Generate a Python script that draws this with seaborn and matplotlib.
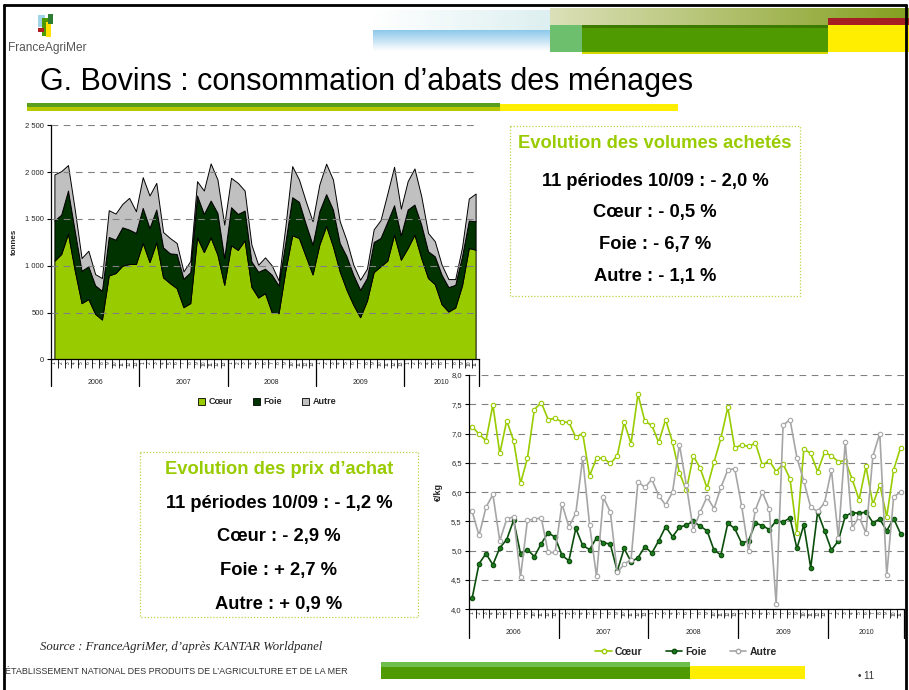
import numpy as np
import matplotlib
matplotlib.use("Agg")
import matplotlib.pyplot as plt
import seaborn as sns
from matplotlib.patches import Rectangle, Patch
from matplotlib.lines import Line2D

# données : périodes de 4 semaines
annees = ['2006', '2007', '2008', '2009', '2010']
periodes_par_an = [13, 13, 13, 13, 11]

# volumes achetés (tonnes)
coeur_t = [1053, 1125, 1343, 950, 600, 643, 486, 425, 896, 921, 1000, 1018, 1018,
           1243, 1039, 1250, 875, 814, 760, 557, 600, 1303, 1146, 1303, 1118, 796,
           1218, 1168, 1271, 775, 660, 707, 500, 493, 950, 1325, 1296, 1100, 907,
           1225, 1425, 1207, 939, 743, 582, 450, 625, 932, 993, 1053, 1332, 1064,
           1189, 1332, 1082, 868, 803, 589, 510, 553, 789, 1189, 1171]
foie_t = [429, 421, 460, 420, 346, 350, 304, 307, 411, 357, 410, 368, 332,
          375, 364, 350, 321, 318, 365, 304, 330, 447, 407, 393, 446, 286,
          407, 385, 318, 271, 275, 261, 403, 296, 300, 407, 386, 346, 318,
          357, 340, 393, 304, 357, 321, 293, 243, 321, 303, 415, 314, 261,
          411, 321, 357, 286, 297, 314, 261, 243, 311, 293, 304]
autre_t = [493, 464, 272, 230, 136, 167, 120, 136, 286, 279, 250, 339, 232,
           328, 347, 285, 164, 164, 118, 78, 120, 153, 250, 397, 357, 357,
           314, 332, 214, 179, 75, 121, 100, 54, 170, 332, 239, 243, 250,
           286, 325, 321, 232, 171, 108, 107, 100, 136, 190, 300, 411, 285,
           303, 386, 304, 196, 161, 108, 86, 61, 96, 236, 296]

# prix d'achat (€/kg)
coeur_p = [7.12, 6.99, 6.88, 7.49, 6.66, 7.22, 6.88, 6.15, 6.58, 7.41, 7.53, 7.24, 7.26,
           7.20, 7.19, 6.94, 7.00, 6.28, 6.58, 6.58, 6.49, 6.62, 7.19, 6.83, 7.67, 7.21,
           7.14, 6.85, 7.24, 6.85, 6.33, 6.03, 6.62, 6.41, 6.07, 6.51, 6.92, 7.45, 6.75,
           6.81, 6.78, 6.84, 6.46, 6.54, 6.35, 6.48, 6.23, 5.30, 6.74, 6.66, 6.35, 6.68,
           6.62, 6.52, 6.54, 6.22, 5.87, 6.44, 5.79, 6.13, 5.58, 6.38, 6.76]
foie_p = [4.19, 4.78, 4.95, 4.76, 5.05, 5.19, 5.52, 4.95, 5.02, 4.90, 5.12, 5.31, 5.23,
          4.92, 4.83, 5.38, 5.09, 5.02, 5.22, 5.14, 5.11, 4.65, 5.04, 4.81, 4.88, 5.07,
          4.96, 5.17, 5.41, 5.24, 5.40, 5.44, 5.50, 5.42, 5.34, 5.01, 4.93, 5.47, 5.38,
          5.13, 5.17, 5.47, 5.43, 5.36, 5.51, 5.49, 5.56, 5.04, 5.44, 4.71, 5.66, 5.34,
          5.01, 5.17, 5.59, 5.65, 5.64, 5.66, 5.48, 5.54, 5.34, 5.55, 5.29]
autre_p = [5.67, 5.26, 5.74, 5.96, 5.17, 5.54, 5.58, 4.55, 5.52, 5.54, 5.56, 4.97, 4.97,
           5.80, 5.41, 5.64, 6.58, 5.44, 4.56, 5.91, 5.66, 4.63, 4.77, 4.85, 6.18, 6.08,
           6.22, 5.94, 5.78, 6.00, 6.81, 6.12, 5.36, 5.66, 5.92, 5.72, 6.08, 6.38, 6.40,
           5.77, 5.00, 5.70, 6.00, 5.71, 4.09, 7.14, 7.24, 6.59, 6.19, 5.74, 5.67, 5.82,
           6.38, 5.22, 6.86, 5.39, 5.58, 5.30, 6.62, 7.00, 4.58, 5.92, 6.00]

textes_volumes = ['Evolution des volumes achetés', '11 périodes 10/09 : - 2,0 %',
                  'Cœur : - 0,5 %', 'Foie : - 6,7 %', 'Autre : - 1,1 %']
textes_prix = ['Evolution des prix d’achat', '11 périodes 10/09 : - 1,2 %',
               'Cœur : - 2,9 %', 'Foie : + 2,7 %', 'Autre : + 0,9 %']

VERT = '#99CC00'
VERT_FONCE = '#003300'
GRIS = '#C0C0C0'

sns.set_theme(style='ticks')
plt.rcParams['font.family'] = ['Liberation Sans', 'DejaVu Sans']

n = len(coeur_t)
x = np.arange(n)
etiquettes = [str(p) for k in periodes_par_an for p in range(1, k + 1)]

fig = plt.figure(figsize=(9.09, 6.90), dpi=100)

# fond de la diapo, en pixels
bg = fig.add_axes([0, 0, 1, 1])
bg.set_xlim(0, 909)
bg.set_ylim(690, 0)
bg.axis('off')


def rect(x0, y0, x1, y1, c, **kw):
    bg.add_patch(Rectangle((x0, y0), x1 - x0, y1 - y0, facecolor=c, edgecolor='none', **kw))


def degrade(x0, y0, x1, y1, c0, c1, vertical=False):
    c0 = np.array(matplotlib.colors.to_rgb(c0))
    c1 = np.array(matplotlib.colors.to_rgb(c1))
    t = np.linspace(0, 1, 100)[:, None]
    img = c0 + (c1 - c0) * t
    img = img[:, None, :] if vertical else img[None, :, :]
    bg.imshow(img, extent=(x0, x1, y1, y0), aspect='auto', interpolation='bilinear')


# bandeau du haut
degrade(373, 10, 550, 30, '#FFFFFF', '#DDEFF0')
degrade(373, 30, 550, 51, '#8CC8EA', '#FFFFFF', vertical=True)
degrade(550, 8, 909, 25, '#DCE0B8', '#84A020')
rect(550, 25, 582, 52, '#6DBE6D')
rect(582, 25, 828, 52, '#4E9A00')
rect(582, 25, 828, 28, '#3C7A00')
rect(582, 52, 828, 54, '#D8D800')
rect(828, 18, 909, 25, '#A51E22')
rect(828, 25, 909, 52, '#FFEE00')
bg.set_xlim(0, 909)
bg.set_ylim(690, 0)

# logo
rect(38, 15, 45, 27, '#9FD3E8')
rect(42, 18, 49, 36, '#4E9A00')
rect(46, 22, 51, 37, '#FFE000')
rect(38, 28, 44, 32, '#B01E22')
rect(48, 14, 53, 24, '#2E7D32')
bg.text(8, 48, 'FranceAgriMer', fontsize=8.6, color='#555555', va='center', ha='left',
        family=['Liberation Sans Narrow', 'Liberation Sans'])

# titre
bg.text(40, 82, 'G. Bovins : consommation d’abats des ménages', fontsize=22,
        color='black', va='center', ha='left')
rect(27, 103, 500, 107, '#5A9E1E')
rect(27, 107, 500, 111, '#B8C800')
rect(500, 104, 678, 111, '#FFEE00')

# cadre noir
bg.plot([4, 4], [5, 690], color='black', lw=2)
bg.plot([4, 906], [5, 5], color='black', lw=2)
bg.plot([906, 906], [5, 690], color='black', lw=2)

# encadrés
for (x0, y0, x1, y1), textes, ys in [((510, 126, 800, 296), textes_volumes, [144, 181, 212, 245, 277]),
                                     ((140, 452, 418, 617), textes_prix, [470, 503, 537, 571, 604])]:
    bg.add_patch(Rectangle((x0, y0), x1 - x0, y1 - y0, fill=False, edgecolor='#BCD44A',
                           linestyle=(0, (1, 1.5)), lw=0.9))
    cx = (x0 + x1) / 2
    for i, (t, y) in enumerate(zip(textes, ys)):
        bg.text(cx, y, t, ha='center', va='center', fontsize=13.2, fontweight='bold',
                color=VERT if i == 0 else 'black')

# source et pied de page
bg.text(40, 647, 'Source : FranceAgriMer, d’après KANTAR Worldpanel', fontsize=9.2,
        style='italic', family=['Liberation Serif', 'DejaVu Serif'], va='center')
rect(381, 662, 690, 667, '#6DBE4A')
rect(381, 667, 690, 679, '#4E9A00')
rect(690, 666, 805, 679, '#FFEE00')
bg.text(5, 672, 'ÉTABLISSEMENT NATIONAL DES PRODUITS DE L’AGRICULTURE ET DE LA MER',
        fontsize=6.5, color='#333333', va='center',
        family=['Liberation Sans Narrow', 'Liberation Sans'])
bg.text(858, 676, '• 11', fontsize=7, color='#333333', va='center')


def axe_periodes(ax, sep_frac, year_off):
    ax.set_xticks(x)
    ax.set_xticklabels(etiquettes, rotation=90, fontsize=3.5)
    ax.tick_params(axis='x', which='major', length=0, pad=1.2, bottom=True)
    ax.set_xticks(np.arange(-0.5, n), minor=True)
    ax.tick_params(axis='x', which='minor', length=6.5, width=0.6, color='black', bottom=True)
    trans = ax.get_xaxis_transform()
    debut = 0
    for an, k in zip(annees, periodes_par_an):
        ax.plot([debut - 0.5] * 2, [0, -sep_frac], transform=trans, color='black',
                lw=0.9, clip_on=False)
        ax.annotate(an, xy=(debut + (k - 1) / 2, 0), xycoords=trans, xytext=(0, year_off),
                    textcoords='offset points', ha='center', va='center', fontsize=5)
        debut += k
    ax.plot([n - 0.5] * 2, [0, -sep_frac], transform=trans, color='black', lw=0.9,
            clip_on=False)
    ax.set_xlim(-0.5, n - 0.5)
    for s in ['top', 'right']:
        ax.spines[s].set_visible(False)
    for s in ['left', 'bottom']:
        ax.spines[s].set_color('black')
        ax.spines[s].set_linewidth(0.9)
    ax.patch.set_alpha(0)


# graphique 1 : volumes empilés
ax1 = fig.add_axes([51 / 909, 1 - 359.3 / 690, 428 / 909, 234 / 690])
ax1.stackplot(x, coeur_t, foie_t, autre_t, colors=[VERT, VERT_FONCE, GRIS],
              edgecolor='black', linewidth=0.7)
ax1.set_ylim(0, 2500)
ax1.set_yticks(range(0, 2501, 500))
ax1.set_yticklabels([f'{v:,}'.replace(',', ' ') for v in range(0, 2501, 500)])
ax1.tick_params(axis='y', length=3, width=0.8, labelsize=5.5, pad=2, left=True, color='black')
ax1.yaxis.grid(True, color='#808080', linestyle=(0, (6, 5)), linewidth=0.8)
ax1.set_axisbelow(False)
ax1.set_ylabel('tonnes', fontsize=5.8, fontweight='bold', labelpad=5)
axe_periodes(ax1, 27 / 234, -17)

poignees = [Patch(facecolor=c, edgecolor='black', linewidth=0.6) for c in [VERT, VERT_FONCE, GRIS]]
fig.legend(poignees, ['Cœur', 'Foie', 'Autre'], loc='center',
           bbox_to_anchor=(267 / 909, 1 - 402 / 690), ncol=3, frameon=False,
           prop=dict(weight='bold', size=6.5), handlelength=0.8, handleheight=0.8,
           columnspacing=2.2, handletextpad=0.4)

# graphique 2 : prix
ax2 = fig.add_axes([468.7 / 909, 1 - 609.3 / 690, 435.3 / 909, 234.3 / 690])
styles = [(coeur_p, '#99CC00', 'white', '#99CC00'),
          (foie_p, '#0B4D0B', '#1E7A1E', '#0B4D0B'),
          (autre_p, '#A6A6A6', 'white', '#A6A6A6')]
for vals, c, face, edge in styles:
    sns.lineplot(x=x, y=vals, ax=ax2, color=c, lw=1.2, marker='o', markersize=3.2,
                 markerfacecolor=face, markeredgecolor=edge, markeredgewidth=0.8)
ax2.set_ylim(4, 8)
yt = np.arange(4, 8.01, 0.5)
ax2.set_yticks(yt)
ax2.set_yticklabels([f'{v:.1f}'.replace('.', ',') for v in yt])
ax2.tick_params(axis='y', length=3, width=0.8, labelsize=5.5, pad=2, left=True, color='black')
ax2.yaxis.grid(True, color='#808080', linestyle=(0, (6, 5)), linewidth=0.8)
ax2.set_ylabel('€/kg', fontsize=6.5, fontweight='bold', labelpad=6)
axe_periodes(ax2, 29 / 234.3, -17)

poignees2 = [Line2D([0], [0], color=c, lw=1.2, marker='o', markersize=3.2,
                    markerfacecolor=face, markeredgecolor=edge) for _, c, face, edge in styles]
fig.legend(poignees2, ['Cœur', 'Foie', 'Autre'], loc='center',
           bbox_to_anchor=(686 / 909, 1 - 652 / 690), ncol=3, frameon=False,
           prop=dict(weight='bold', size=7.5), handlelength=1.6,
           columnspacing=2.2, handletextpad=0.3)

fig.savefig('out.png', dpi=100)
